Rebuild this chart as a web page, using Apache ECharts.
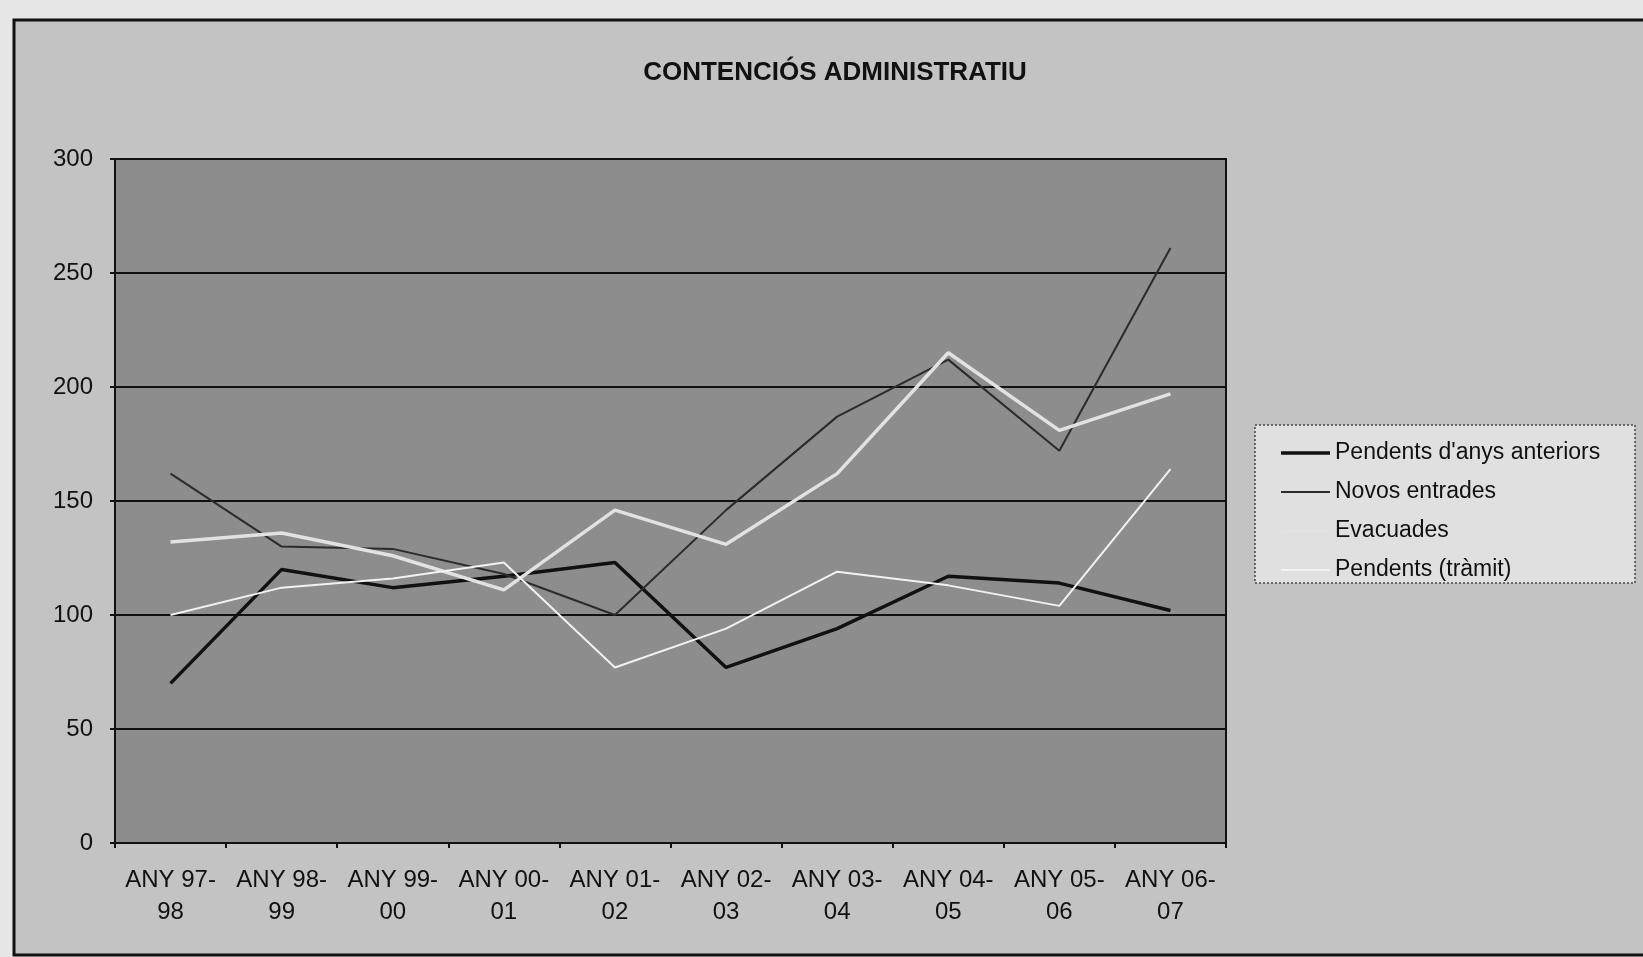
<!DOCTYPE html>
<html>
<head>
<meta charset="utf-8">
<title>Contenciós administratiu</title>
<script src="https://cdn.jsdelivr.net/npm/echarts@6/dist/echarts.min.js"></script>
<style>
  html, body { margin: 0; padding: 0; background: #e6e6e6; }
  #chart { width: 1643px; height: 957px; }
</style>
</head>
<body>
<div id="chart"></div>
<script>
// cursos (eix X)
var anys = ['ANY 97-\n98', 'ANY 98-\n99', 'ANY 99-\n00', 'ANY 00-\n01', 'ANY 01-\n02',
  'ANY 02-\n03', 'ANY 03-\n04', 'ANY 04-\n05', 'ANY 05-\n06', 'ANY 06-\n07']

// valors llegits del gràfic
var pendentsAnteriors = [70, 120, 112, 117, 123, 77, 94, 117, 114, 102]
var novesEntrades = [162, 130, 129, 118, 100, 146, 187, 212, 172, 261]
var evacuades = [132, 136, 126, 111, 146, 131, 162, 215, 181, 197]
var pendentsTramit = [100, 112, 116, 123, 77, 94, 119, 113, 104, 164]

var yMin = 0
var yMax = 300
var yStep = 50

// icones de línia per a la llegenda (gruixut / prim)
var liniaGruixuda = 'path://M0,0 L49,0 L49,3.5 L0,3.5 Z'
var liniaPrima = 'path://M0,0 L49,0 L49,2 L0,2 Z'

var myChart = echarts.init(document.getElementById('chart'))

var option = {
  backgroundColor: 'transparent',
  animation: false,
  textStyle: { fontFamily: 'Arial, "Liberation Sans", sans-serif' },
  title: {
    text: 'CONTENCIÓS ADMINISTRATIU',
    left: 830,
    top: 55,
    textAlign: 'center',
    textStyle: { fontSize: 26, fontWeight: 'bold', color: '#111' }
  },
  graphic: [
    // marc exterior del gràfic
    {
      type: 'rect',
      z: -10,
      silent: true,
      shape: { x: 14, y: 20, width: 1700, height: 935 },
      style: { fill: '#c3c3c3', stroke: '#111', lineWidth: 3 }
    },
    // caixa de la llegenda
    {
      type: 'rect',
      z: -5,
      silent: true,
      shape: { x: 1255, y: 425, width: 380, height: 158 },
      style: { fill: '#e0e0e0', stroke: '#444', lineWidth: 1.5, lineDash: [2, 2] }
    }
  ],
  legend: {
    orient: 'vertical',
    left: 1276,
    top: 435,
    itemWidth: 49,
    itemHeight: 14,
    itemGap: 13,
    textStyle: { fontSize: 23, color: '#111', lineHeight: 26 },
    data: [
      { name: "Pendents d'anys anteriors", icon: liniaGruixuda },
      { name: 'Novos entrades', icon: liniaPrima },
      { name: 'Evacuades', icon: liniaGruixuda },
      { name: 'Pendents (tràmit)', icon: liniaPrima }
    ]
  },
  grid: {
    left: 115,
    top: 159,
    width: 1111,
    height: 684,
    show: true,
    backgroundColor: '#8d8d8d',
    borderColor: '#111',
    borderWidth: 2
  },
  xAxis: {
    type: 'category',
    data: anys,
    boundaryGap: true,
    axisLine: { lineStyle: { color: '#111', width: 2 } },
    axisTick: { show: true, length: 5, lineStyle: { color: '#111', width: 2 } },
    axisLabel: {
      margin: 21,
      interval: 0,
      fontSize: 24,
      lineHeight: 32,
      color: '#111'
    }
  },
  yAxis: {
    type: 'value',
    min: yMin,
    max: yMax,
    interval: yStep,
    axisLine: { show: true, lineStyle: { color: '#111', width: 2 } },
    axisTick: { show: true, length: 5, lineStyle: { color: '#111', width: 2 } },
    axisLabel: { margin: 22, fontSize: 24, color: '#111' },
    splitLine: { show: true, lineStyle: { color: '#111', width: 2 } }
  },
  series: [
    {
      name: "Pendents d'anys anteriors",
      type: 'line',
      symbol: 'none',
      data: pendentsAnteriors,
      itemStyle: { color: '#111' },
      lineStyle: { color: '#111', width: 3.5 },
      z: 3
    },
    {
      name: 'Novos entrades',
      type: 'line',
      symbol: 'none',
      data: novesEntrades,
      itemStyle: { color: '#2b2b2b' },
      lineStyle: { color: '#2b2b2b', width: 2 },
      z: 3
    },
    {
      name: 'Evacuades',
      type: 'line',
      symbol: 'none',
      data: evacuades,
      itemStyle: { color: '#e2e2e2' },
      lineStyle: { color: '#e2e2e2', width: 3.5 },
      z: 4
    },
    {
      name: 'Pendents (tràmit)',
      type: 'line',
      symbol: 'none',
      data: pendentsTramit,
      itemStyle: { color: '#f2f2f2' },
      lineStyle: { color: '#f2f2f2', width: 2 },
      z: 4
    }
  ]
}

myChart.setOption(option)
</script>
</body>
</html>
